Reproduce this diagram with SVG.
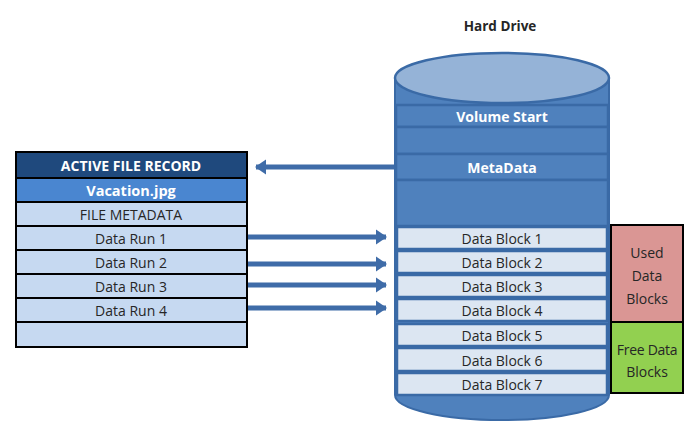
<svg xmlns="http://www.w3.org/2000/svg" width="696" height="431" viewBox="0 0 696 431">
<defs>
<style>
text{font-family:"Open Sans","Liberation Sans",sans-serif;font-size:14px;text-anchor:middle;dominant-baseline:central;fill:#262626}
.w{fill:#fff;font-weight:bold}
.row{fill:#C6D9F1;stroke:#000;stroke-width:2}
.blk{fill:#DCE6F2;stroke:#3A6AA6;stroke-width:2.5}
.band{fill:#4F81BD;stroke:#3A6AA6;stroke-width:2.5}
.arr{stroke:#3F6CA8;stroke-width:5;fill:none}
</style>
<marker id="ah" markerWidth="4" markerHeight="4" refX="2" refY="2" orient="auto" markerUnits="strokeWidth">
<path d="M0,0.5 L2.2,2 L0,3.5 Z" fill="#3F6CA8"/>
</marker>
</defs>
<rect width="696" height="431" fill="#fff"/>
<text x="500" y="26" style="font-weight:bold;font-size:13.5px">Hard Drive</text>
<g id="hard-drive">
<path d="M395,78 L395,395 A107,25 0 0 0 609,395 L609,78 Z" fill="#4F81BD" stroke="#3A6AA6" stroke-width="2"/>
<ellipse cx="502" cy="78" rx="107" ry="25" fill="#95B3D7" stroke="#3A6AA6" stroke-width="2.5"/>
<rect class="band" x="396" y="105" width="212" height="22"/>
<text class="w" x="502" y="116">Volume Start</text>
<rect class="band" x="396" y="127" width="212" height="27"/>
<rect class="band" x="396" y="154" width="212" height="26"/>
<text class="w" x="502" y="167">MetaData</text>
<rect class="band" x="396" y="180" width="212" height="46"/>
<g id="data-blocks">
<rect class="blk" x="397" y="227" width="210" height="22"/><text x="502" y="238">Data Block 1</text>
<rect class="blk" x="397" y="251" width="210" height="22"/><text x="502" y="262">Data Block 2</text>
<rect class="blk" x="397" y="275" width="210" height="22"/><text x="502" y="286">Data Block 3</text>
<rect class="blk" x="397" y="299" width="210" height="22"/><text x="502" y="310">Data Block 4</text>
<rect class="blk" x="397" y="324" width="210" height="22"/><text x="502" y="335">Data Block 5</text>
<rect class="blk" x="397" y="348" width="210" height="23"/><text x="502" y="360">Data Block 6</text>
<rect class="blk" x="397" y="373" width="210" height="22"/><text x="502" y="384">Data Block 7</text>
</g>
</g>
<g id="used-blocks">
<rect x="611" y="225" width="72" height="97" fill="#DA9694" stroke="#000" stroke-width="2"/>
<text x="647" y="252">Used</text><text x="647" y="275">Data</text><text x="647" y="298">Blocks</text>
</g>
<g id="free-blocks">
<rect x="611" y="322" width="72" height="71" fill="#92D050" stroke="#000" stroke-width="2"/>
<text x="647" y="349" style="letter-spacing:-0.3px">Free Data</text><text x="647" y="371">Blocks</text>
</g>
<g id="file-record">
<rect x="16" y="152" width="231" height="26" fill="#1F497D" stroke="#000" stroke-width="2"/>
<text class="w" x="131" y="165">ACTIVE FILE RECORD</text>
<rect x="16" y="178" width="231" height="24" fill="#4A86D0" stroke="#000" stroke-width="2"/>
<text class="w" x="131" y="190" style="font-size:14.5px">Vacation.jpg</text>
<rect class="row" x="16" y="202" width="231" height="24"/><text x="131" y="214">FILE METADATA</text>
<rect class="row" x="16" y="226" width="231" height="24"/><text x="131" y="238">Data Run 1</text>
<rect class="row" x="16" y="250" width="231" height="24"/><text x="131" y="262">Data Run 2</text>
<rect class="row" x="16" y="274" width="231" height="24"/><text x="131" y="286">Data Run 3</text>
<rect class="row" x="16" y="298" width="231" height="24"/><text x="131" y="310">Data Run 4</text>
<rect class="row" x="16" y="322" width="231" height="25"/>
</g>
<g id="connectors">
<line class="arr" x1="394" y1="167" x2="256" y2="167" marker-end="url(#ah)"/>
<line class="arr" x1="248" y1="237" x2="386" y2="237" marker-end="url(#ah)"/>
<line class="arr" x1="248" y1="264" x2="386" y2="264" marker-end="url(#ah)"/>
<line class="arr" x1="248" y1="285" x2="386" y2="285" marker-end="url(#ah)"/>
<line class="arr" x1="248" y1="308" x2="386" y2="308" marker-end="url(#ah)"/>
</g>
</svg>
